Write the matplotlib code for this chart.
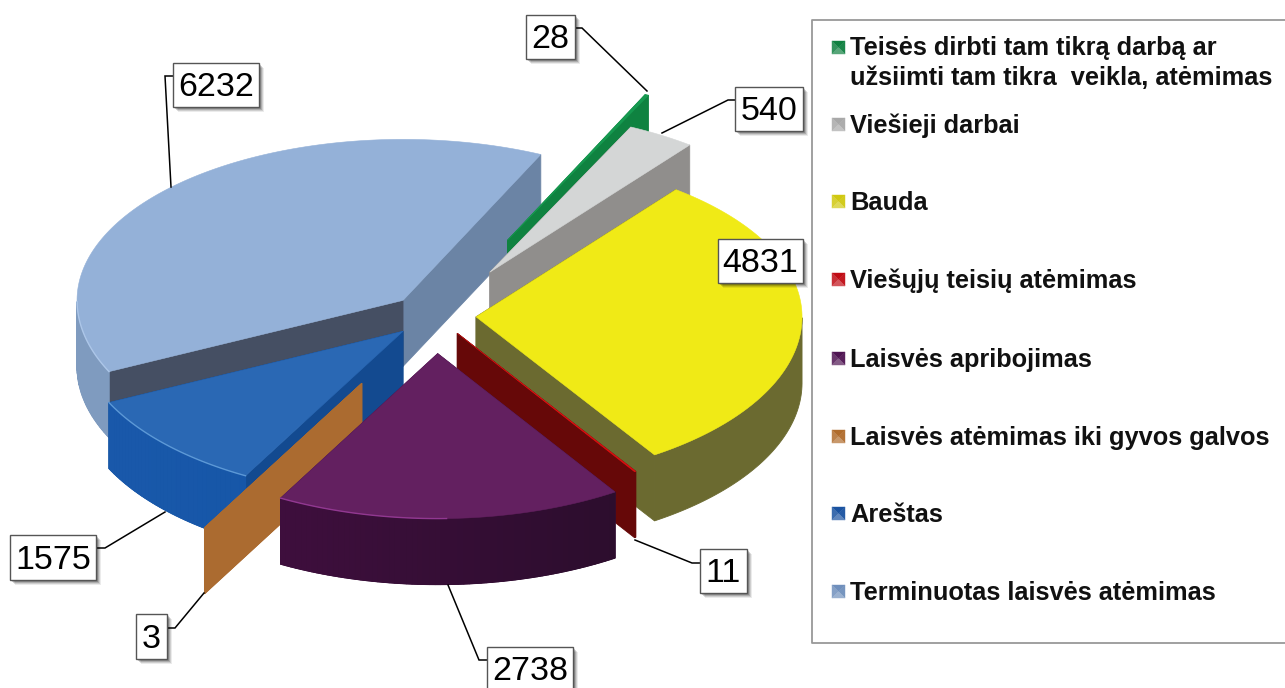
import numpy as np
from matplotlib import pyplot as plt
from matplotlib.colors import to_rgb
from matplotlib.patches import Rectangle, Polygon

names = ['Terminuotas laisvės atėmimas', 'Areštas', 'Laisvės atėmimas iki gyvos galvos',
         'Laisvės apribojimas', 'Viešųjų teisių atėmimas', 'Bauda', 'Viešieji darbai',
         'Teisės dirbti tam tikrą darbą ar\nužsiimti tam tikra  veikla, atėmimas']
values = [6232, 1575, 3, 2738, 11, 4831, 540, 28]
explode = [0.138, 0.135, 0.465, 0.228, 0.125, 0.126, 0.32, 0.52]

top_colors = ['#94b1d8', '#2a68b4', '#ab6b30', '#632060', '#e01010', '#f0ea16', '#d4d6d6', '#169a50']
cut_start = ['#6b84a5', '#134a90', '#ab6b30', '#450f45', '#660808', '#6b6a30', '#908e8c', '#0f8240']
cut_end = ['#454f63', '#134a90', '#ab6b30', '#450f45', '#660808', '#6b6a30', '#908e8c', '#0f8240']
wall_left = ['#7f9bbf', '#1a59ab', '#ab6b30', '#470f45', '#660808', '#6b6a30', '#908e8c', '#0f8240']
wall_right = ['#8aa6c9', '#0c4f9e', '#ab6b30', '#240c26', '#660808', '#6b6a30', '#908e8c', '#0f8240']
rim_colors = ['#b4cdee', '#6aa6e0', None, '#a040a0', None, None, None, None]
rim_end = [360, 360, 0, 272, 0, 0, 0, 0]
legend_colors = ['#6f8fbc', '#1a52a0', '#b06c2c', '#4f1452', '#c00c14', '#d0c810', '#a8a8a8', '#0f8040']

# back to front
draw_order = [0, 7, 6, 5, 1, 2, 4, 3]

box_rects = [(173, 63, 86, 44), (10, 535, 86, 45), (136, 614, 31, 45), (487, 647, 86, 44),
             (700, 549, 47, 44), (718, 239, 85, 44), (735, 87, 68, 44), (526, 15, 49, 44)]
leaders = [[(173, 76), (165, 76), (171, 187)], [(96, 548), (105, 548), (165, 512)],
           [(167, 628), (175, 628), (204, 593)], [(487, 660), (479, 660), (448, 585)],
           [(700, 563), (692, 563), (635, 540)], None,
           [(735, 100), (728, 100), (662, 133)], [(575, 28), (582, 28), (647, 91)]]
legend_y = [591, 513, 436, 358, 279, 201, 124, 47]

cx, cy = 435, 316
rx = 326
ry_back, ry_front = 161, 165
depth = 66
start_angle = 65

plt.rcParams['font.family'] = ['Liberation Sans', 'DejaVu Sans']
fig = plt.figure(figsize=(12.85, 6.88), dpi=100)
ax = fig.add_axes([0, 0, 1, 1])
ax.set_xlim(0, 1285)
ax.set_ylim(688, 0)
ax.axis('off')


def rim_xy(x0, y0, ang):
    a = np.radians(ang)
    s = np.sin(a)
    return x0 + rx * np.cos(a), y0 - np.where(s > 0, ry_back, ry_front) * s


def blend(c1, c2, t):
    c1, c2 = np.array(to_rgb(c1)), np.array(to_rgb(c2))
    return tuple(c1 + (c2 - c1) * t)


def face(pts, color, z, lw=0.6):
    ax.add_patch(Polygon(pts, closed=True, facecolor=color, edgecolor=color, lw=lw, zorder=z))


sweeps = np.array(values) / sum(values) * 360
starts = start_angle + np.concatenate(([0], np.cumsum(sweeps)[:-1]))

for z, i in enumerate(draw_order):
    a0, a1 = starts[i], starts[i] + sweeps[i]
    mid = np.radians((a0 + a1) / 2)
    x0 = cx + explode[i] * rx * np.cos(mid)
    y0 = cy - explode[i] * (ry_back if np.sin(mid) > 0 else ry_front) * np.sin(mid)
    base = z * 10 + 2

    # the two cut faces go first, the top hides them when they look away
    for ang, col in ((a0, cut_start[i]), (a1, cut_end[i])):
        xr, yr = rim_xy(x0, y0, ang)
        face([(x0, y0), (xr, yr), (xr, yr + depth), (x0, y0 + depth)], col, base)

    # outer wall, only the part that looks at the viewer
    angs = np.linspace(a0, a1, max(int(a1 - a0) + 1, 2))
    front = angs[np.sin(np.radians(angs)) < 0]
    if len(front) > 1:
        xs, ys = rim_xy(x0, y0, front)
        outline = list(zip(xs, ys)) + list(zip(xs[::-1], ys[::-1] + depth))
        face(outline, blend(wall_left[i], wall_right[i], 0.5), base + 1)
        if wall_left[i] != wall_right[i]:
            for k in range(len(front) - 1):
                t = (np.cos(np.radians(front[k])) + 1) / 2
                strip = [(xs[k], ys[k]), (xs[k + 1], ys[k + 1]),
                         (xs[k + 1], ys[k + 1] + depth), (xs[k], ys[k] + depth)]
                face(strip, blend(wall_left[i], wall_right[i], t), base + 1, lw=0.8)

    xs, ys = rim_xy(x0, y0, angs)
    top = [(x0, y0)] + list(zip(xs, ys))
    face(top, top_colors[i], base + 2, lw=0.4)

    if rim_colors[i]:
        low = (np.sin(np.radians(angs)) < 0) & (angs <= rim_end[i])
        ax.plot(xs[low], ys[low], color=rim_colors[i], lw=1, alpha=0.8, zorder=base + 3)

# labels with their leader lines
for i, val in enumerate(values):
    if leaders[i]:
        ax.plot(*zip(*leaders[i]), color='black', lw=1.1, zorder=200, solid_joinstyle='miter')
    x, y, w, h = box_rects[i]
    for off, al in ((5, 0.08), (4, 0.12), (3, 0.16), (2, 0.2)):
        ax.add_patch(Rectangle((x + off, y + off), w, h, facecolor='black', edgecolor='none',
                               alpha=al, zorder=201))
    ax.add_patch(Rectangle((x, y), w, h, facecolor='white', edgecolor='#555555', lw=1, zorder=202))
    ax.text(x + w / 2, y + h / 2 + 3, str(val), fontsize=24.5, ha='center', va='center', color='black', zorder=203)

# legend frame, open on the right side
ax.plot([1285, 812, 812, 1285], [20, 20, 643, 643], color='#999999', lw=1.3, zorder=1)

for i, name in enumerate(names):
    y = legend_y[i]
    text_y = y + (16 if '\n' in name else 2)
    ax.text(850, text_y, name, fontsize=18.3, fontweight='bold', ha='left', va='center',
            color='#111111', linespacing=1.3, zorder=5)
    x0, y0, s = 832, y - 6, 13
    col = legend_colors[i]
    c = (x0 + s / 2, y0 + s / 2)
    tl, tr, br, bl = (x0, y0), (x0 + s, y0), (x0 + s, y0 + s), (x0, y0 + s)
    for pts, shade in (((tl, tr, c), 0.0), ((tl, bl, c), 0.15), ((tr, br, c), 0.05), ((bl, br, c), 0.3)):
        face(pts, blend(col, 'white', shade), 5, lw=0.3)

fig.savefig('out.png', dpi=100)
